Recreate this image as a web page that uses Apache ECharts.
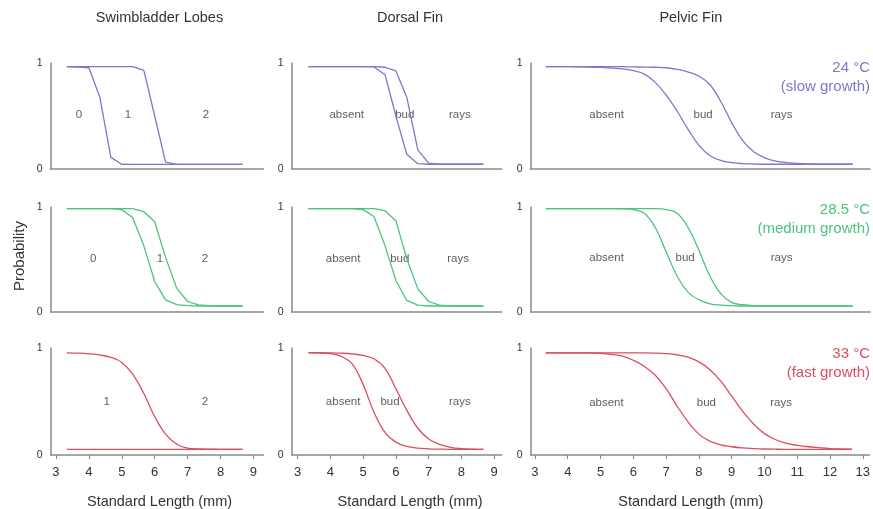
<!DOCTYPE html>
<html>
<head>
<meta charset="utf-8">
<script src="https://cdn.jsdelivr.net/npm/echarts@6/dist/echarts.min.js"></script>
<style>
html,body{margin:0;padding:0;background:#fff;}
#c{width:873px;height:509px;}
</style>
</head>
<body>
<div id="c"></div>
<script>
// ---- data ----
const columnTitles = ['Swimbladder Lobes', 'Dorsal Fin', 'Pelvic Fin'];
const rowTemps = ['24 °C', '28.5 °C', '33 °C'];
const rowGrowth = ['(slow growth)', '(medium growth)', '(fast growth)'];
const rowColors = ['#7b78cc', '#4cc47c', '#dc4d60'];
const xTicksShort = [3, 4, 5, 6, 7, 8, 9];
const xTicksLong = [3, 4, 5, 6, 7, 8, 9, 10, 11, 12, 13];

const xsShort = [3.33, 3.67, 4, 4.33, 4.67, 5, 5.33, 5.67, 6, 6.33, 6.67, 7, 7.33, 7.67, 8, 8.33, 8.67];
const xsLong = [3.33, 3.67, 4, 4.33, 4.67, 5, 5.33, 5.67, 6, 6.33, 6.67, 7, 7.33, 7.67, 8, 8.33, 8.67,
  9, 9.33, 9.67, 10, 10.33, 10.67, 11, 11.33, 11.67, 12, 12.33, 12.67];

// row 1 : 24 °C
const swim24A = [0.965, 0.962, 0.955, 0.68, 0.11, 0.045, 0.044, 0.044, 0.044, 0.044, 0.044, 0.044, 0.044, 0.044, 0.044, 0.044, 0.044];
const swim24B = [0.965, 0.965, 0.965, 0.965, 0.965, 0.965, 0.965, 0.93, 0.50, 0.065, 0.044, 0.044, 0.044, 0.044, 0.044, 0.044, 0.044];
const dors24A = [0.965, 0.965, 0.965, 0.965, 0.965, 0.965, 0.963, 0.89, 0.50, 0.14, 0.05, 0.045, 0.045, 0.045, 0.045, 0.045, 0.045];
const dors24B = [0.965, 0.965, 0.965, 0.965, 0.965, 0.965, 0.965, 0.96, 0.925, 0.68, 0.18, 0.055, 0.045, 0.045, 0.045, 0.045, 0.045];
const pelv24A = [0.965, 0.965, 0.965, 0.964, 0.962, 0.958, 0.953, 0.944, 0.928, 0.895, 0.815, 0.695, 0.545, 0.37, 0.22, 0.125, 0.08,
  0.06, 0.051, 0.047, 0.045, 0.045, 0.045, 0.045, 0.045, 0.045, 0.045, 0.045, 0.045];
const pelv24B = [0.965, 0.965, 0.965, 0.965, 0.965, 0.965, 0.965, 0.965, 0.963, 0.962, 0.96, 0.955, 0.94, 0.915, 0.875, 0.795, 0.63,
  0.43, 0.265, 0.16, 0.105, 0.075, 0.06, 0.052, 0.048, 0.046, 0.045, 0.045, 0.045];

// row 2 : 28.5 °C
const swim28A = [0.985, 0.985, 0.985, 0.985, 0.985, 0.975, 0.90, 0.63, 0.29, 0.115, 0.07, 0.06, 0.057, 0.057, 0.057, 0.057, 0.057];
const swim28B = [0.985, 0.985, 0.985, 0.985, 0.985, 0.985, 0.985, 0.955, 0.86, 0.52, 0.225, 0.10, 0.068, 0.06, 0.057, 0.057, 0.057];
const dors28A = [0.985, 0.985, 0.985, 0.985, 0.985, 0.975, 0.91, 0.63, 0.30, 0.11, 0.065, 0.057, 0.057, 0.057, 0.057, 0.057, 0.057];
const dors28B = [0.985, 0.985, 0.985, 0.985, 0.985, 0.985, 0.985, 0.965, 0.87, 0.51, 0.22, 0.10, 0.065, 0.058, 0.057, 0.057, 0.057];
const pelv28A = [0.985, 0.985, 0.985, 0.985, 0.985, 0.985, 0.985, 0.983, 0.975, 0.94, 0.80, 0.57, 0.34, 0.185, 0.115, 0.078, 0.065,
  0.06, 0.057, 0.057, 0.057, 0.057, 0.057, 0.057, 0.057, 0.057, 0.057, 0.057, 0.057];
const pelv28B = [0.985, 0.985, 0.985, 0.985, 0.985, 0.985, 0.985, 0.985, 0.985, 0.985, 0.985, 0.975, 0.94, 0.80, 0.58, 0.34, 0.17,
  0.09, 0.07, 0.06, 0.057, 0.057, 0.057, 0.057, 0.057, 0.057, 0.057, 0.057, 0.057];

// row 3 : 33 °C
const swim33A = [0.955, 0.952, 0.946, 0.935, 0.912, 0.865, 0.755, 0.575, 0.36, 0.195, 0.10, 0.065, 0.056, 0.054, 0.053, 0.053, 0.053];
const swim33B = [0.053, 0.053, 0.053, 0.053, 0.053, 0.053, 0.053, 0.053, 0.053, 0.053, 0.053, 0.053, 0.053, 0.053, 0.053, 0.053, 0.053];
const dors33A = [0.955, 0.953, 0.947, 0.922, 0.85, 0.66, 0.40, 0.21, 0.12, 0.08, 0.064, 0.058, 0.055, 0.053, 0.053, 0.053, 0.053];
const dors33B = [0.956, 0.956, 0.955, 0.952, 0.945, 0.93, 0.90, 0.81, 0.62, 0.42, 0.25, 0.15, 0.10, 0.072, 0.06, 0.055, 0.053];
const pelv33A = [0.955, 0.955, 0.955, 0.955, 0.955, 0.95, 0.94, 0.925, 0.885, 0.83, 0.745, 0.62, 0.46, 0.31, 0.195, 0.13, 0.095,
  0.077, 0.066, 0.06, 0.056, 0.054, 0.053, 0.053, 0.053, 0.053, 0.053, 0.053, 0.053];
const pelv33B = [0.955, 0.955, 0.955, 0.955, 0.955, 0.955, 0.955, 0.955, 0.955, 0.955, 0.953, 0.948, 0.937, 0.915, 0.87, 0.80, 0.69,
  0.55, 0.41, 0.29, 0.20, 0.145, 0.109, 0.09, 0.077, 0.068, 0.06, 0.056, 0.054];

// region labels inside each panel: [x, y, text]
const labelsSwim24 = [[3.70, 0.51, '0'], [5.19, 0.51, '1'], [7.56, 0.51, '2']];
const labelsSwim28 = [[4.13, 0.51, '0'], [6.16, 0.51, '1'], [7.53, 0.51, '2']];
const labelsSwim33 = [[4.54, 0.50, '1'], [7.53, 0.50, '2']];
const labelsDors24 = [[4.50, 0.51, 'absent'], [6.27, 0.51, 'bud'], [7.95, 0.51, 'rays']];
const labelsDors28 = [[4.39, 0.51, 'absent'], [6.12, 0.51, 'bud'], [7.90, 0.51, 'rays']];
const labelsDors33 = [[4.39, 0.50, 'absent'], [5.82, 0.50, 'bud'], [7.95, 0.50, 'rays']];
const labelsPelv24 = [[5.18, 0.51, 'absent'], [8.12, 0.51, 'bud'], [10.51, 0.51, 'rays']];
const labelsPelv28 = [[5.18, 0.52, 'absent'], [7.57, 0.52, 'bud'], [10.51, 0.52, 'rays']];
const labelsPelv33 = [[5.18, 0.49, 'absent'], [8.23, 0.49, 'bud'], [10.51, 0.49, 'rays']];

// ---- layout ----
const FONT = '"Liberation Sans", Arial, Helvetica, sans-serif';
const TXT = '#333';
const AXIS = '#8a8a8a';
const cols = [
  {left: 50.7, width: 212.6, min: 2.84, max: 9.3, xs: xsShort, ticks: xTicksShort, center: 159.5},
  {left: 291.7, width: 210, min: 2.82, max: 9.23, xs: xsShort, ticks: xTicksShort, center: 410},
  {left: 530.7, width: 339.3, min: 2.87, max: 13.2, xs: xsLong, ticks: xTicksLong, center: 690.8}
];
const rows = [
  {top: 63, height: 106},
  {top: 207, height: 105},
  {top: 348, height: 107}
];
const panels = [
  [[swim24A, swim24B, labelsSwim24, false], [dors24A, dors24B, labelsDors24, false], [pelv24A, pelv24B, labelsPelv24, true]],
  [[swim28A, swim28B, labelsSwim28, false], [dors28A, dors28B, labelsDors28, false], [pelv28A, pelv28B, labelsPelv28, true]],
  [[swim33A, swim33B, labelsSwim33, true], [dors33A, dors33B, labelsDors33, true], [pelv33A, pelv33B, labelsPelv33, true]]
];

const grid = [], xAxis = [], yAxis = [], series = [];
let gi = 0;
rows.forEach((r, ri) => {
  cols.forEach((c, ci) => {
    grid.push({left: c.left, top: r.top, width: c.width, height: r.height, containLabel: false});
    const bottom = ri === 2;
    xAxis.push({
      type: 'value', gridIndex: gi, min: c.min, max: c.max,
      axisLine: {show: true, onZero: false, lineStyle: {color: AXIS, width: 1.5}},
      axisTick: {show: bottom, customValues: c.ticks, length: 4, lineStyle: {color: AXIS, width: 1.2}},
      axisLabel: {show: bottom, customValues: c.ticks, fontSize: 13, color: TXT, fontFamily: FONT, margin: 11},
      splitLine: {show: false}
    });
    yAxis.push({
      type: 'value', gridIndex: gi, min: 0, max: 1, interval: 1,
      axisLine: {show: true, lineStyle: {color: AXIS, width: 1.5}},
      axisTick: {show: false},
      axisLabel: {show: true, fontSize: 10.5, color: TXT, fontFamily: FONT, margin: 8},
      splitLine: {show: false}
    });
    const p = panels[ri][ci];
    const color = rowColors[ri];
    [p[0], p[1]].forEach(ys => {
      series.push({
        type: 'line', xAxisIndex: gi, yAxisIndex: gi,
        data: c.xs.map((x, i) => [x, ys[i]]),
        showSymbol: false, symbol: 'none',
        smooth: p[3] ? 0.4 : false,
        lineStyle: {color: color, width: 1.3},
        silent: true, animation: false
      });
    });
    series.push({
      type: 'scatter', xAxisIndex: gi, yAxisIndex: gi, symbolSize: 0, silent: true, animation: false,
      data: p[2].map(l => ({value: [l[0], l[1]], name: l[2]})),
      label: {show: true, position: 'inside', formatter: d => d.name, color: TXT, fontSize: 11.5, fontFamily: FONT}
    });
    gi++;
  });
});

const graphic = [];
cols.forEach((c, ci) => {
  graphic.push({type: 'text', x: c.center, y: 17.5, style: {text: columnTitles[ci], textAlign: 'center', textVerticalAlign: 'middle', fill: TXT, font: '14.5px ' + FONT}});
  graphic.push({type: 'text', x: c.center, y: 502, style: {text: 'Standard Length (mm)', textAlign: 'center', textVerticalAlign: 'middle', fill: TXT, font: '14.5px ' + FONT}});
});
const tempY = [[68, 87], [210, 228.5], [353.5, 373]];
rows.forEach((r, ri) => {
  graphic.push({type: 'text', x: 870, y: tempY[ri][0], style: {text: rowTemps[ri], textAlign: 'right', textVerticalAlign: 'middle', fill: rowColors[ri], font: '15px ' + FONT}});
  graphic.push({type: 'text', x: 870, y: tempY[ri][1], style: {text: rowGrowth[ri], textAlign: 'right', textVerticalAlign: 'middle', fill: rowColors[ri], font: '15px ' + FONT}});
});
graphic.push({type: 'text', x: 20, y: 256, rotation: Math.PI / 2, style: {text: 'Probability', textAlign: 'center', textVerticalAlign: 'middle', fill: TXT, font: '15px ' + FONT}});

const chart = echarts.init(document.getElementById('c'), null, {renderer: 'canvas'});
chart.setOption({
  backgroundColor: '#fff',
  animation: false,
  grid, xAxis, yAxis, series, graphic
});
</script>
</body>
</html>
